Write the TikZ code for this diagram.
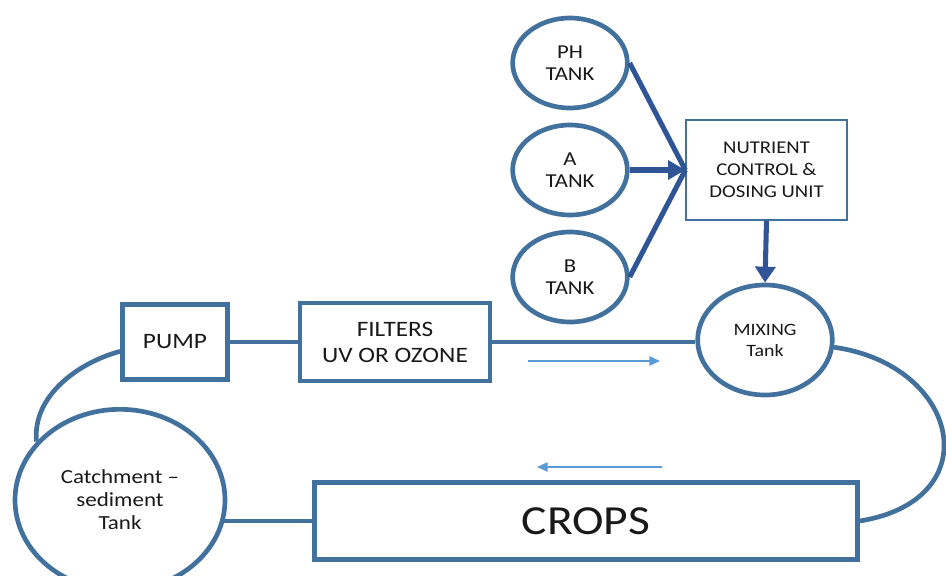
\documentclass[tikz,border=0pt]{standalone}
\usepackage{fontspec}
\setmainfont{Carlito}[FakeStretch=1.15]
\usetikzlibrary{arrows.meta,shapes.geometric}
\pgfdeclarelayer{bg}
\pgfsetlayers{bg,main}
\definecolor{outl}{RGB}{65,113,156}
\definecolor{darkarr}{RGB}{47,85,151}
\definecolor{lightarr}{RGB}{91,155,213}
\definecolor{txt}{RGB}{25,25,25}
\begin{document}
\begin{tikzpicture}[x=0.75pt,y=-0.75pt,
 tank/.style={ellipse,draw=outl,line width=3.5pt,fill=white,inner sep=0pt,align=center,text=txt},
 boxthick/.style={rectangle,draw=outl,line width=3.5pt,fill=white,inner sep=0pt,align=center,text=txt},
 boxthin/.style={rectangle,draw=outl,line width=1pt,fill=white,inner sep=0pt,align=center,text=txt},
 pipe/.style={draw=outl,line width=3.5pt},
 feed/.style={draw=darkarr,line width=3.8pt},
 flow/.style={draw=lightarr,line width=1.3pt,-{Triangle[length=8pt,width=7pt]}}]

\useasboundingbox (0,0) rectangle (946,575);
\clip (0,0) rectangle (946,575);

% tanks
\node[tank,minimum width=86pt,minimum height=67.5pt,font=\fontsize{14.8}{16.5}\selectfont] (ph) at (570,63) {PH\\TANK};
\node[tank,minimum width=86pt,minimum height=67.5pt,font=\fontsize{14.8}{16.5}\selectfont] (a) at (570,170) {A\\TANK};
\node[tank,minimum width=86pt,minimum height=67.5pt,font=\fontsize{14.8}{16.5}\selectfont] (b) at (570,277) {B\\TANK};

% dosing unit
\node[boxthin,minimum width=120.75pt,minimum height=75pt,font=\fontsize{13.5}{16.5}\selectfont] (dose) at (766.5,170) {NUTRIENT\\CONTROL \&\\DOSING UNIT};

% mixing
\node[tank,minimum width=101pt,minimum height=82.5pt,font=\fontsize{13}{15.75}\selectfont] (mix) at (765,340) {MIXING\\Tank};

% pump, filters
\node[boxthick,minimum width=78.75pt,minimum height=56.25pt,font=\fontsize{16.5}{19.5}\selectfont] (pump) at (175,342) {PUMP};
\node[boxthick,minimum width=142.5pt,minimum height=58.5pt,font=\fontsize{16.5}{19.5}\selectfont] (filt) at (395,342) {FILTERS\\UV OR OZONE};

% catchment
\node[tank,minimum width=157.5pt,minimum height=136pt,font=\fontsize{15}{17.25}\selectfont] (catch) at (120,500) {Catchment --\\sediment\\Tank};

% crops
\node[boxthick,minimum width=407pt,minimum height=57.75pt,font=\fontsize{31}{36}\selectfont] (crops) at (586,521) {CROPS};

% feed arrows
\draw[feed] (ph.east) -- (dose.west);
\draw[feed] (b.east) -- (dose.west);
\draw[feed,-{Triangle[length=13pt,width=14pt]}] (a.east) -- (dose.west);
\draw[feed,-{Triangle[length=12pt,width=15pt]}] (dose.south) -- (mix.north);

% pipes
\draw[pipe] (pump.east) -- (filt.west);
\draw[pipe] (filt.east) -- (filt.east -| mix.west);
\begin{pgfonlayer}{bg}
\draw[pipe] (crops.west) -- (crops.west -| catch.center);
\end{pgfonlayer}
\draw[pipe] ([yshift=-7pt]pump.west) .. controls (80,362) and (32,395) .. (catch.145);
\draw[pipe] (mix.-6) .. controls (960,365) and (990,500) .. (crops.east);

% flow arrows
\coordinate (f1) at (528,361);
\coordinate (f2) at (660,361);
\coordinate (r1) at (662,467);
\coordinate (r2) at (537,467);
\draw[flow] (f1) -- (f2);
\draw[flow] (r1) -- (r2);
\end{tikzpicture}
\end{document}
